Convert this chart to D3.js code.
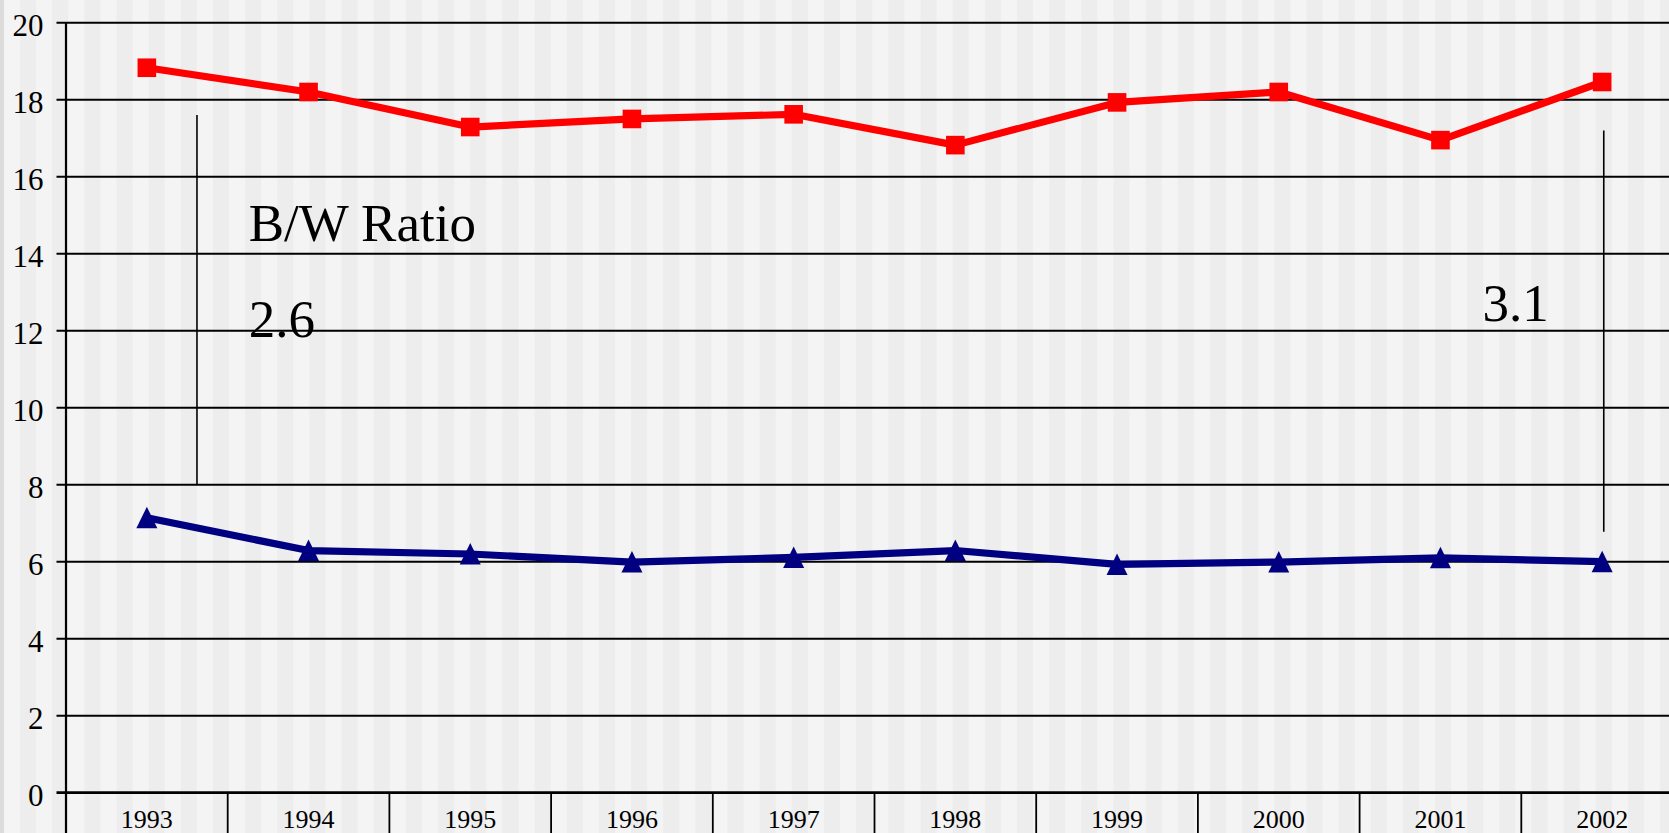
<!DOCTYPE html>
<html>
<head>
<meta charset="utf-8">
<script src="https://cdn.jsdelivr.net/npm/d3@7"></script>
<style>
    html, body { margin: 0; padding: 0; background: #f4f4f4; overflow: hidden; }
    svg { display: block; }
    .serif { font-family: "Liberation Serif", "Times New Roman", Times, serif; fill: #000; }
</style>
</head>
<body>
<div id="chart"></div>
<script>
    // data
    let years = ["1993", "1994", "1995", "1996", "1997", "1998", "1999", "2000", "2001", "2002"];
    let black = [18.83, 18.20, 17.29, 17.50, 17.62, 16.82, 17.93, 18.20, 16.95, 18.46];
    let white = [7.14, 6.29, 6.20, 5.99, 6.11, 6.29, 5.93, 5.99, 6.10, 6.00];
    let yTicks = [0, 2, 4, 6, 8, 10, 12, 14, 16, 18, 20];

    // the two ratio markers (x is a category index, y in data units)
    let ratioLines = [
        {x: 0.31, y0: 17.6, y1: 8},
        {x: 9.01, y0: 17.2, y1: 6.78}
    ];
    let ratioText = [
        {x: 0.63, y: 14.34, text: "B/W Ratio"},
        {x: 0.63, y: 11.84, text: "2.6"},
        {x: 8.26, y: 12.26, text: "3.1"}
    ];

    let W = 1669, H = 833;
    let plotLeft = 66, band = 161.7;
    let plotTop = 22.7, plotBottom = 792.7;

    let svg = d3.select("#chart")
        .append("svg")
        .attr("width", W)
        .attr("height", H);

    let xScale = d3.scaleBand()
        .domain(years)
        .range([plotLeft, plotLeft + band * years.length]);

    let xIdx = d3.scaleLinear()
        .domain([-0.5, years.length - 0.5])
        .range([plotLeft, plotLeft + band * years.length]);

    let yScale = d3.scaleLinear()
        .domain([0, 20])
        .range([plotBottom, plotTop]);

    // striped backdrop
    let stripe = 16.08;
    let stripes = d3.range(20, W, stripe * 2);
    svg.append("rect")
        .attr("width", W).attr("height", H)
        .attr("fill", "#f4f4f4");
    svg.append("g")
        .selectAll("rect")
        .data(stripes)
        .join("rect")
        .attr("x", d => d)
        .attr("y", 0)
        .attr("width", stripe)
        .attr("height", H)
        .attr("fill", "#ededed");
    svg.append("rect")
        .attr("width", 4).attr("height", H)
        .attr("fill", "#dcdcdc");

    // horizontal grid + y ticks
    svg.append("g")
        .selectAll("line")
        .data(yTicks)
        .join("line")
        .attr("x1", plotLeft - 9.5)
        .attr("x2", W)
        .attr("y1", d => yScale(d))
        .attr("y2", d => yScale(d))
        .attr("stroke", "#000")
        .attr("stroke-width", d => d === 0 ? 2.8 : 2.1);

    svg.append("g")
        .selectAll("text")
        .data(yTicks)
        .join("text")
        .attr("class", "serif")
        .attr("x", 43.5)
        .attr("y", d => yScale(d) + 2.5)
        .attr("dy", "0.35em")
        .attr("text-anchor", "end")
        .style("font-size", "31px")
        .text(d => d);

    // left axis
    svg.append("line")
        .attr("x1", plotLeft).attr("x2", plotLeft)
        .attr("y1", yScale(20)).attr("y2", H)
        .attr("stroke", "#000")
        .attr("stroke-width", 2.2);

    // category dividers below the zero line
    svg.append("g")
        .selectAll("line")
        .data(years.slice(1))
        .join("line")
        .attr("x1", d => xScale(d))
        .attr("x2", d => xScale(d))
        .attr("y1", yScale(0))
        .attr("y2", H)
        .attr("stroke", "#000")
        .attr("stroke-width", 1.8);

    svg.append("g")
        .selectAll("text")
        .data(years)
        .join("text")
        .attr("class", "serif")
        .attr("x", d => xScale(d) + xScale.bandwidth() / 2)
        .attr("y", 828.3)
        .attr("text-anchor", "middle")
        .style("font-size", "26px")
        .text(d => d);

    // ratio annotation
    svg.append("g")
        .selectAll("line")
        .data(ratioLines)
        .join("line")
        .attr("x1", d => xIdx(d.x))
        .attr("x2", d => xIdx(d.x))
        .attr("y1", d => yScale(d.y0))
        .attr("y2", d => yScale(d.y1))
        .attr("stroke", "#000")
        .attr("stroke-width", 1.6);

    svg.append("g")
        .selectAll("text")
        .data(ratioText)
        .join("text")
        .attr("class", "serif")
        .attr("x", d => xIdx(d.x))
        .attr("y", d => yScale(d.y))
        .style("font-size", "53px")
        .text(d => d.text);

    // series
    let cx = (d, i) => xScale(years[i]) + xScale.bandwidth() / 2;
    let line = d3.line()
        .x(cx)
        .y(d => yScale(d));

    svg.append("path")
        .datum(black)
        .attr("d", line)
        .attr("fill", "none")
        .attr("stroke", "#ff0000")
        .attr("stroke-width", 7.2)
        .attr("stroke-linejoin", "round");

    svg.append("g")
        .selectAll("rect")
        .data(black)
        .join("rect")
        .attr("x", (d, i) => cx(d, i) - 9.3)
        .attr("y", d => yScale(d) - 9.3)
        .attr("width", 18.6)
        .attr("height", 18.6)
        .attr("fill", "#ff0000");

    svg.append("path")
        .datum(white)
        .attr("d", line)
        .attr("fill", "none")
        .attr("stroke", "#000080")
        .attr("stroke-width", 7.2)
        .attr("stroke-linejoin", "round");

    let tri = "M0,-11L10.5,10.5L-10.5,10.5Z";
    svg.append("g")
        .selectAll("path")
        .data(white)
        .join("path")
        .attr("d", tri)
        .attr("transform", (d, i) => "translate(" + cx(d, i) + "," + yScale(d) + ")")
        .attr("fill", "#000080");
</script>
</body>
</html>
